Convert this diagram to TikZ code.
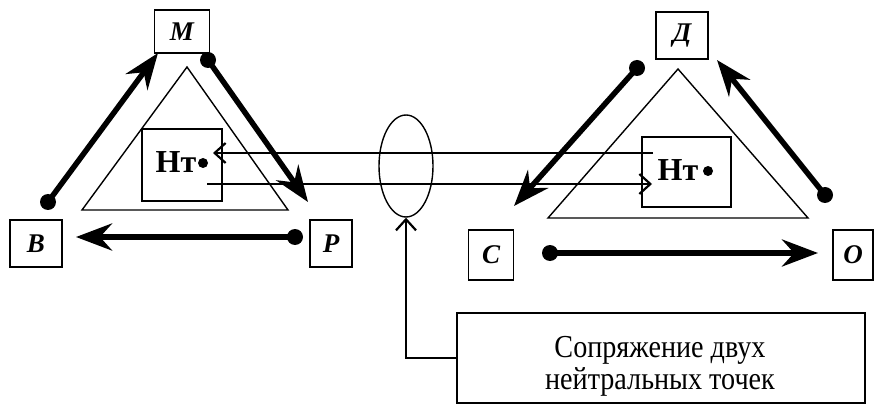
\documentclass[tikz,border=0pt]{standalone}
\usepackage{fontspec}
\setmainfont{Liberation Serif}
\newfontfamily\notefont[FakeStretch=0.88]{Liberation Serif}
\usetikzlibrary{arrows.meta,shapes.geometric}
\tikzset{
  lbox/.style={draw,line width=1.6pt,inner sep=0pt,font=\fontsize{27}{30}\selectfont\bfseries\itshape},
  ntbox/.style={draw,line width=1.6pt,inner sep=0pt},
  nttext/.style={inner sep=0pt,font=\fontsize{32}{34}\selectfont\bfseries},
  thickarrow/.style={line width=5.5pt,-{Stealth[length=36pt,width=27pt,inset=12pt]}},
  dotend/.style={circle,fill=black,inner sep=0pt,minimum size=16pt},
  smalldot/.style={circle,fill=black,inner sep=0pt,minimum size=10pt},
  thinarrow/.style={line width=2.2pt,-{Straight Barb[length=11pt,width=20pt,line width=2.2pt]}},
  tri/.style={line width=1.4pt,line join=miter},
}
\begin{document}
\begin{tikzpicture}[x=1pt,y=-1pt]
\useasboundingbox (0,0) rectangle (875,406);
% triangles
\draw[tri] (187,67) -- (288,210) -- (82,210) -- cycle;
\draw[tri] (678,69) -- (808,218) -- (548,218) -- cycle;
% letter boxes
\node[lbox,minimum width=55pt,minimum height=43pt] (M) at (182,31.5) {M};
\node[lbox,minimum width=52pt,minimum height=47pt] (B) at (36,243.5) {B};
\node[lbox,minimum width=42pt,minimum height=47pt] (P) at (331,243.5) {P};
\node[lbox,minimum width=52pt,minimum height=47pt] (D) at (682,35.5) {Д};
\node[lbox,minimum width=45pt,minimum height=50pt] (C) at (491,255) {C};
\node[lbox,minimum width=40pt,minimum height=50pt] (O) at (853,255) {O};
% neutral point boxes
\node[ntbox,minimum width=80pt,minimum height=72pt] (NL) at (182,165) {};
\node[nttext,anchor=base] (NLt) at (176,173) {Нт};
\node[smalldot] (NLd) at (203,163) {};
\node[ntbox,minimum width=89pt,minimum height=70pt] (NR) at (686.5,172) {};
\node[nttext,anchor=base] (NRt) at (678,181) {Нт};
\node[smalldot] (NRd) at (708,171) {};
% thick arrows with dot starts
\node[dotend] (d1) at (48,202) {};
\coordinate (t1) at (158,53);
\draw[thickarrow] (d1.center) -- (t1);
\node[dotend] (d2) at (208,60) {};
\coordinate (t2) at (308,202);
\draw[thickarrow] (d2.center) -- (t2);
\node[dotend] (d3) at (295,237) {};
\coordinate (t3) at (76,237);
\draw[thickarrow] (d3.center) -- (t3);
\node[dotend] (d4) at (637,68) {};
\coordinate (t4) at (514,206);
\draw[thickarrow] (d4.center) -- (t4);
\node[dotend] (d5) at (825,195) {};
\coordinate (t5) at (717,60);
\draw[thickarrow] (d5.center) -- (t5);
\node[dotend] (d6) at (550,253) {};
\coordinate (t6) at (818,253);
\draw[thickarrow] (d6.center) -- (t6);
% connecting lines between neutral points
\coordinate (u1) at (653,153);
\coordinate (u2) at (213,153);
\draw[thinarrow] (u1) -- (u2);
\coordinate (l1) at (207,184);
\coordinate (l2) at (652,184);
\draw[thinarrow] (l1) -- (l2);
% ellipse
\node[draw,ellipse,line width=1.4pt,minimum width=54pt,minimum height=102pt,inner sep=0pt] (ell) at (406,166) {};
% note box
\node[draw,line width=1.8pt,minimum width=408pt,minimum height=90pt,inner sep=0pt] (note) at (661,358) {};
\node[align=center,inner sep=0pt,font=\notefont\fontsize{32}{32}\selectfont] (notetext) at (660,366) {Сопряжение двух\\нейтральных точек};
\draw[thinarrow] (note.west) -| (ell.south);
\end{tikzpicture}
\end{document}
